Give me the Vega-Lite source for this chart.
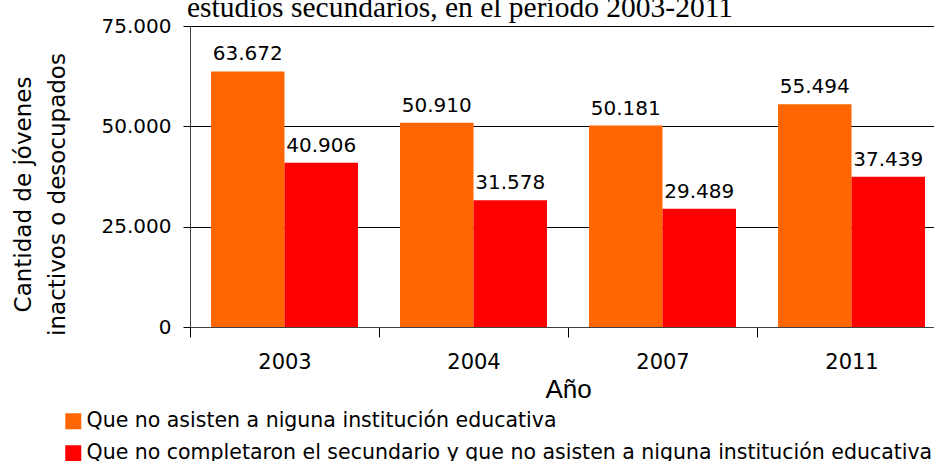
{
  "$schema": "https://vega.github.io/schema/vega-lite/v6.json",
  "width": 744,
  "height": 301,
  "autosize": {"type": "none"},
  "padding": {"left": 190, "top": 26, "right": 0, "bottom": 134},
  "background": "white",
  "title": {
    "text": "estudios secundarios, en el período 2003-2011",
    "font": "Liberation Serif",
    "fontSize": 29.5,
    "fontWeight": "normal",
    "color": "black",
    "anchor": "middle",
    "frame": "group",
    "dx": -102,
    "dy": 34,
    "baseline": "alphabetic",
    "offset": 4
  },
  "data": {
    "values": [
      {"anio": "2003", "serie": "Que no asisten a niguna institución educativa", "valor": 63672},
      {"anio": "2003", "serie": "Que no completaron el secundario y que no asisten a niguna institución educativa", "valor": 40906},
      {"anio": "2004", "serie": "Que no asisten a niguna institución educativa", "valor": 50910},
      {"anio": "2004", "serie": "Que no completaron el secundario y que no asisten a niguna institución educativa", "valor": 31578},
      {"anio": "2007", "serie": "Que no asisten a niguna institución educativa", "valor": 50181},
      {"anio": "2007", "serie": "Que no completaron el secundario y que no asisten a niguna institución educativa", "valor": 29489},
      {"anio": "2011", "serie": "Que no asisten a niguna institución educativa", "valor": 55494},
      {"anio": "2011", "serie": "Que no completaron el secundario y que no asisten a niguna institución educativa", "valor": 37439}
    ]
  },
  "encoding": {
    "x": {
      "field": "anio",
      "type": "nominal",
      "scale": {"range": [0, 756], "paddingInner": 0, "paddingOuter": 0},
      "axis": {
        "tickBand": "extent",
        "tickSize": 10,
        "tickColor": "black",
        "domainColor": "#404040",
        "labelAngle": 0,
        "labelFont": "DejaVu Sans",
        "labelFontSize": 21,
        "labelColor": "black",
        "labelPadding": 14,
        "title": "Año",
        "titleFont": "Liberation Sans",
        "titleFontSize": 26,
        "titleFontWeight": "normal",
        "titleColor": "black",
        "titleX": 378,
        "titleY": 70,
        "titleAlign": "center",
        "titleBaseline": "alphabetic"
      }
    },
    "xOffset": {
      "field": "serie",
      "type": "nominal",
      "scale": {"paddingInner": 0, "paddingOuter": 0.286}
    },
    "y": {
      "field": "valor",
      "type": "quantitative",
      "scale": {"domain": [0, 75000], "nice": false},
      "axis": {
        "values": [0, 25000, 50000, 75000],
        "grid": true,
        "gridColor": "black",
        "gridOpacity": 1,
        "tickSize": 7,
        "tickColor": "black",
        "domainColor": "#404040",
        "labelFont": "DejaVu Sans",
        "labelFontSize": 20,
        "labelColor": "black",
        "labelPadding": 12,
        "labelExpr": "replace(format(datum.value, ',d'), ',', '.')",
        "title": ["Cantidad de jóvenes", "inactivos o desocupados"],
        "titleFont": "DejaVu Sans",
        "titleFontSize": 23,
        "titleFontWeight": "normal",
        "titleColor": "black",
        "titleLineHeight": 34,
        "titleAngle": -90,
        "titleX": -178,
        "titleY": 168,
        "titleAlign": "center",
        "titleBaseline": "top"
      }
    }
  },
  "layer": [
    {
      "mark": {"type": "bar"},
      "encoding": {
        "color": {
          "field": "serie",
          "type": "nominal",
          "scale": {
            "domain": [
              "Que no asisten a niguna institución educativa",
              "Que no completaron el secundario y que no asisten a niguna institución educativa"
            ],
            "range": ["#FF6600", "#FF0000"]
          },
          "legend": {
            "orient": "none",
            "legendX": -127,
            "legendY": 385,
            "title": null,
            "symbolType": "square",
            "symbolSize": 256,
            "symbolStrokeWidth": 0,
            "symbolOpacity": 1,
            "labelFont": "DejaVu Sans",
            "labelFontSize": 20.5,
            "labelColor": "black",
            "labelOffset": 3,
            "labelLimit": 1000,
            "rowPadding": 11,
            "padding": 0
          }
        }
      }
    },
    {
      "mark": {
        "type": "text",
        "dy": -11,
        "baseline": "alphabetic",
        "align": "center",
        "font": "DejaVu Sans",
        "fontSize": 20,
        "color": "black"
      },
      "encoding": {
        "text": {"field": "valor", "type": "quantitative", "format": ",d"}
      }
    }
  ],
  "config": {
    "locale": {
      "number": {"decimal": ",", "thousands": ".", "grouping": [3], "currency": ["", " €"]}
    },
    "view": {"stroke": null}
  }
}
